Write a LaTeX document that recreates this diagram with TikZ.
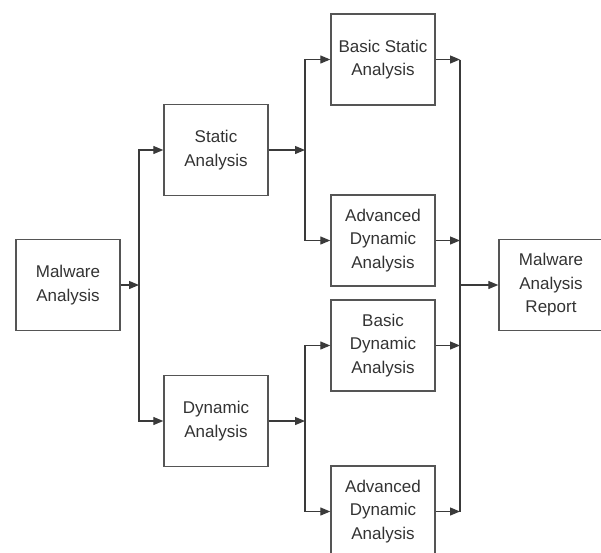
\documentclass[tikz,border=0pt]{standalone}
\usepackage{fontspec}
\setmainfont{Liberation Sans}
\usetikzlibrary{arrows.meta}
\definecolor{linec}{HTML}{3A3A3A}
\definecolor{boxc}{HTML}{555555}
\definecolor{txtc}{HTML}{333333}
\tikzset{
  blk/.style={draw=boxc, line width=1.4pt, fill=white, minimum width=104pt, minimum height=91pt,
    inner sep=0pt, align=center, text=txtc, font=\fontsize{17}{23.5}\selectfont},
  conn/.style={draw=linec, line width=1.2pt},
  arr/.style={conn, -{Triangle[length=10pt,width=8pt]}}
}
\begin{document}
\begin{tikzpicture}[x=1pt,y=-1pt]
\useasboundingbox (0,0) rectangle (601,552);
\node[blk] (ma)  at (68,285)   {Malware\\Analysis};
\node[blk] (sa)  at (216,150)  {Static\\Analysis};
\node[blk] (da)  at (216,421)  {Dynamic\\Analysis};
\node[blk] (bsa) at (383,59.5) {Basic Static\\Analysis};
\node[blk] (ada1) at (383,240.5) {Advanced\\Dynamic\\Analysis};
\node[blk] (bda) at (383,345.5) {Basic\\Dynamic\\Analysis};
\node[blk] (ada2) at (383,511.5) {Advanced\\Dynamic\\Analysis};
\node[blk] (mar) at (551,285)  {Malware\\Analysis\\Report};
\coordinate (b1) at (139,285);
\coordinate (b2) at (305,150);
\coordinate (b3) at (305,421);
\coordinate (b4) at (460,285);
% from Malware Analysis
\draw[arr] (ma.east) -- (b1);
\draw[arr] (b1) |- (sa.west);
\draw[arr] (b1) |- (da.west);
% from Static Analysis
\draw[arr] (sa.east) -- (b2);
\draw[arr] (b2) |- (bsa.west);
\draw[arr] (b2) |- (ada1.west);
% from Dynamic Analysis
\draw[arr] (da.east) -- (b3);
\draw[arr] (b3) |- (bda.west);
\draw[arr] (b3) |- (ada2.west);
% right collector bus
\draw[arr] (bsa.east) -- (bsa.east -| b4);
\draw[arr] (ada1.east) -- (ada1.east -| b4);
\draw[arr] (bda.east) -- (bda.east -| b4);
\draw[arr] (ada2.east) -- (ada2.east -| b4);
\draw[conn] (bsa.east -| b4) -- (ada2.east -| b4);
\draw[arr] (b4) -- (mar.west);
\end{tikzpicture}
\end{document}
